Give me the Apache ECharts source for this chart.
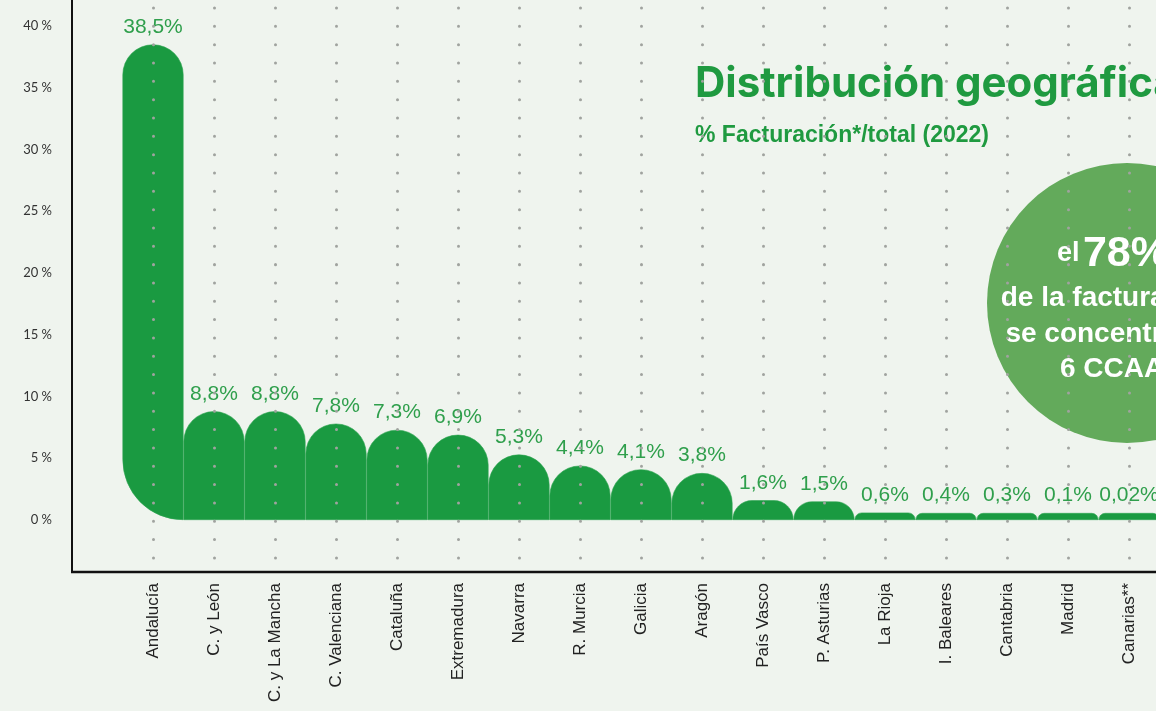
<!DOCTYPE html>
<html>
<head>
<meta charset="utf-8">
<script src="https://cdn.jsdelivr.net/npm/echarts@6/dist/echarts.min.js"></script>
<style>
  html, body { margin: 0; padding: 0; background: #eff4ee; }
  #chart { width: 1156px; height: 711px; }
</style>
</head>
<body>
<div id="chart"></div>
<script>
// comunidades autónomas, % facturación / total (2022)
const categories = ['Andalucía', 'C. y León', 'C. y La Mancha', 'C. Valenciana', 'Cataluña', 'Extremadura',
  'Navarra', 'R. Murcia', 'Galicia', 'Aragón', 'País Vasco', 'P. Asturias', 'La Rioja', 'I. Baleares',
  'Cantabria', 'Madrid', 'Canarias**'];
const shares = [38.5, 8.8, 8.8, 7.8, 7.3, 6.9, 5.3, 4.4, 4.1, 3.8, 1.6, 1.5, 0.6, 0.4, 0.3, 0.1, 0.02];
const yTicks = [0, 5, 10, 15, 20, 25, 30, 35, 40];
const calloutLines = ['de la facturación', 'se concentra en', '6 CCAA'];

const green = '#1a9a41';
const chart = echarts.init(document.getElementById('chart'));

// la primera barra lleva la esquina inferior izquierda redondeada
const barData = shares.map((v, i) => ({
  value: v,
  itemStyle: { borderRadius: i === 0 ? [30, 30, 0, 60] : [30, 30, 0, 0] }
}));

chart.setOption({
  backgroundColor: '#eff4ee',
  title: {
    text: 'Distribución geográfica',
    subtext: '% Facturación*/total (2022)',
    left: 690,
    top: 58,
    z: 1,
    itemGap: 19,
    textStyle: { color: '#1f9a40', fontFamily: 'Inter', fontWeight: 700, fontSize: 42 },
    subtextStyle: { color: '#1f9a40', fontFamily: 'Liberation Sans', fontWeight: 'bold', fontSize: 23 }
  },
  grid: { left: 153, right: 27, top: 0, bottom: 139 },
  xAxis: {
    type: 'category',
    data: categories,
    boundaryGap: false,
    z: 5,
    axisLine: { show: false },
    axisTick: { show: false },
    axisLabel: {
      rotate: 90,
      interval: 0,
      margin: 11,
      color: '#222',
      fontFamily: 'Liberation Sans',
      fontSize: 17
    },
    splitLine: {
      show: true,
      lineStyle: { color: '#a0a39f', width: 3, cap: 'round', type: [0.01, 18.32], dashOffset: 10.33 }
    }
  },
  yAxis: {
    type: 'value',
    min: -4.21,
    max: 42.1,
    splitNumber: 9,
    minInterval: 5,
    maxInterval: 5,
    offset: 81,
    axisLine: { show: true, lineStyle: { color: '#111', width: 2 } },
    axisTick: { show: false },
    splitLine: { show: false },
    axisLabel: {
      margin: 20,
      color: '#333',
      fontFamily: 'Lato',
      fontSize: 13,
      formatter: v => yTicks.indexOf(Math.round(v * 100) / 100) >= 0 ? v + ' %' : ''
    }
  },
  series: [{
    type: 'bar',
    data: barData,
    barCategoryGap: '0%',
    barMinHeight: 7,
    clip: false,
    itemStyle: { color: green, borderColor: '#2ea451', borderWidth: 0.6 },
    label: {
      show: true,
      position: 'top',
      distance: 7,
      color: '#2f9f4c',
      fontFamily: 'Liberation Sans',
      fontSize: 21,
      formatter: p => String(p.value).replace('.', ',') + '%'
    }
  }],
  graphic: [
    { type: 'line', z: 4, shape: { x1: 71, y1: 572, x2: 1156, y2: 572 }, style: { stroke: '#111', lineWidth: 2.5 } },
    { type: 'circle', z: 1, shape: { cx: 1127, cy: 303, r: 140 }, style: { fill: '#63aa5b' } },
    {
      type: 'text', z: 1, x: 1113, y: 254,
      style: {
        text: '{s|el} {b|78%}', align: 'center', verticalAlign: 'middle',
        rich: {
          s: { fill: '#fff', fontFamily: 'Liberation Sans', fontWeight: 'bold', fontSize: 27 },
          b: { fill: '#fff', fontFamily: 'Liberation Sans', fontWeight: 'bold', fontSize: 43 }
        }
      }
    },
    ...calloutLines.map((t, i) => ({
      type: 'text', z: 1, x: 1112, y: [298, 334, 369][i],
      style: {
        text: t, align: 'center', verticalAlign: 'middle', fill: '#fff',
        fontFamily: 'Liberation Sans', fontWeight: 'bold', fontSize: 28
      }
    }))
  ]
});
</script>
</body>
</html>
